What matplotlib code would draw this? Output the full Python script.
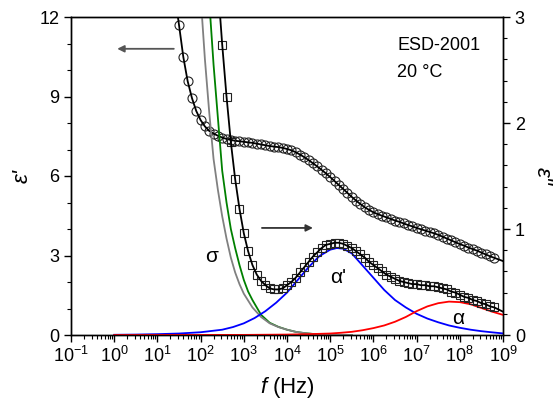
import matplotlib
matplotlib.use('Agg')
import matplotlib.pyplot as plt
import numpy as np
from matplotlib.ticker import MultipleLocator, LogLocator, NullFormatter

plt.rcParams['font.family'] = ['Liberation Sans', 'DejaVu Sans']
plt.rcParams['mathtext.fontset'] = 'custom'
plt.rcParams['mathtext.rm'] = 'Liberation Sans'
plt.rcParams['mathtext.it'] = 'Liberation Sans:italic'
plt.rcParams['axes.unicode_minus'] = False

# measured data, 10 points per decade (log10 of f in Hz)
logf_eps1 = np.round(np.arange(15, 89) / 10, 1)
eps1 = [11.70, 10.49, 9.58, 8.94, 8.45, 8.11, 7.87, 7.70, 7.60, 7.52,
        7.45, 7.40, 7.36, 7.33, 7.31, 7.29, 7.27, 7.25, 7.22, 7.19,
        7.16, 7.13, 7.11, 7.09, 7.06, 7.02, 6.97, 6.90, 6.81, 6.71,
        6.60, 6.48, 6.36, 6.23, 6.10, 5.96, 5.81, 5.66, 5.51, 5.36,
        5.21, 5.07, 4.94, 4.82, 4.72, 4.63, 4.56, 4.50, 4.44, 4.38,
        4.32, 4.27, 4.21, 4.15, 4.10, 4.04, 3.99, 3.94, 3.89, 3.84,
        3.78, 3.71, 3.64, 3.57, 3.50, 3.43, 3.37, 3.30, 3.24, 3.18,
        3.11, 3.04, 2.97, 2.91]

logf_eps2 = np.round(np.arange(25, 89) / 10, 1)
eps2 = [2.74, 2.25, 1.82, 1.47, 1.19, 0.96, 0.79, 0.66, 0.57, 0.51,
        0.47, 0.44, 0.43, 0.43, 0.44, 0.47, 0.50, 0.54, 0.59, 0.64,
        0.69, 0.74, 0.78, 0.82, 0.85, 0.86, 0.87, 0.87, 0.86, 0.84,
        0.82, 0.79, 0.76, 0.73, 0.69, 0.66, 0.63, 0.60, 0.57, 0.55,
        0.53, 0.51, 0.50, 0.49, 0.48, 0.48, 0.47, 0.47, 0.46, 0.46,
        0.45, 0.44, 0.43, 0.41, 0.40, 0.38, 0.36, 0.35, 0.33, 0.32,
        0.30, 0.29, 0.27, 0.26]

# fit curves extend a bit beyond the measured points
fit1_head_logf, fit1_head = [1.4], [12.9]
fit1_tail_logf, fit1_tail = [8.9, 9.0], [2.85, 2.79]
fit2_head_logf, fit2_head = [2.4], [3.3]
fit2_tail_logf, fit2_tail = [8.9, 9.0], [0.24, 0.22]

# conductivity terms
logf_gray = [1.9, 2.0, 2.1, 2.2, 2.3, 2.4, 2.5, 2.6, 2.7, 2.8, 2.9, 3.0,
             3.2, 3.4, 3.6, 3.8, 4.0, 4.2, 4.4, 4.6, 4.8, 5.0, 5.5]
gray = [4.0, 3.2, 2.6, 2.1, 1.66, 1.37, 1.12, 0.91, 0.73, 0.59, 0.48, 0.39,
        0.26, 0.17, 0.11, 0.075, 0.05, 0.03, 0.018, 0.01, 0.005, 0.002, 0.0]
logf_green = [2.0, 2.1, 2.2, 2.3, 2.4, 2.5, 2.6, 2.7, 2.8, 2.9, 3.0, 3.1,
              3.2, 3.3, 3.4, 3.6, 3.8, 4.0, 4.2, 4.4, 4.6, 4.8, 5.0, 5.5]
green = [4.8, 3.9, 3.15, 2.55, 2.05, 1.55, 1.25, 1.0, 0.82, 0.66, 0.52, 0.41,
         0.33, 0.26, 0.19, 0.115, 0.077, 0.05, 0.03, 0.018, 0.01, 0.005, 0.002, 0.0]

# alpha' relaxation
logf_blue = [0.0, 0.5, 1.0, 1.5, 2.0, 2.5, 2.75, 3.0, 3.25, 3.5, 3.75, 4.0,
             4.25, 4.5, 4.75, 5.0, 5.15, 5.3, 5.5, 5.75, 6.0, 6.25, 6.5, 6.75,
             7.0, 7.25, 7.5, 7.75, 8.0, 8.25, 8.5, 8.75, 9.0]
blue = [0.002, 0.004, 0.008, 0.014, 0.026, 0.05, 0.075, 0.11, 0.16, 0.225, 0.305, 0.40,
        0.52, 0.64, 0.745, 0.805, 0.82, 0.815, 0.77, 0.655, 0.54, 0.425, 0.33, 0.26,
        0.20, 0.155, 0.12, 0.09, 0.068, 0.05, 0.036, 0.025, 0.015]

# alpha relaxation
logf_red = [0.0, 3.0, 4.0, 4.5, 5.0, 5.25, 5.5, 5.75, 6.0, 6.25, 6.5, 6.75,
            7.0, 7.25, 7.5, 7.75, 8.0, 8.25, 8.5, 8.75, 9.0]
red = [0.0, 0.001, 0.004, 0.008, 0.014, 0.021, 0.03, 0.045, 0.065, 0.09, 0.125, 0.17,
       0.225, 0.27, 0.30, 0.315, 0.31, 0.29, 0.255, 0.22, 0.19]

fig = plt.figure(figsize=(5.57, 4.12), dpi=100)
ax = fig.add_axes([71 / 557, 1 - 335 / 412, 432 / 557, 318 / 412])
ax2 = ax.twinx()

f = lambda lf: 10.0 ** np.asarray(lf)

# epsilon' (left axis)
ax.plot(f(logf_eps1), eps1, 'o', ms=6.5, mfc='none', mec='#222222', mew=0.8)
ax.plot(f(np.concatenate([fit1_head_logf, logf_eps1, fit1_tail_logf])),
        np.concatenate([fit1_head, eps1, fit1_tail]), color='black', lw=1.3)

# epsilon'' (right axis)
ax2.plot(f(logf_green), green, color='#008000', lw=1.3)
ax2.plot(f(logf_gray), gray, color='#808080', lw=1.3)
ax2.plot(f(logf_blue), blue, color='#0000ff', lw=1.3)
ax2.plot(f(logf_red), red, color='#ff0000', lw=1.3)
ax2.plot(f(logf_eps2), eps2, 's', ms=5.5, mfc='none', mec='#222222', mew=0.8)
ax2.plot(f(np.concatenate([fit2_head_logf, logf_eps2, fit2_tail_logf])),
         np.concatenate([fit2_head, eps2, fit2_tail]), color='black', lw=1.3)

ax.set_xscale('log')
ax.set_xlim(1e-1, 1e9)
ax.set_ylim(0, 12)
ax2.set_ylim(0, 3)
ax.set_yticks([0, 3, 6, 9, 12])
ax.yaxis.set_minor_locator(MultipleLocator(1))
ax2.set_yticks([0, 1, 2, 3])
ax2.yaxis.set_minor_locator(MultipleLocator(0.2))
ax.xaxis.set_major_locator(LogLocator(base=10, numticks=20))
ax.xaxis.set_minor_locator(LogLocator(base=10, subs=np.arange(2, 10), numticks=200))
ax.xaxis.set_minor_formatter(NullFormatter())

for a in (ax, ax2):
    a.tick_params(which='major', direction='out', length=5, width=1, labelsize=13)
    a.tick_params(which='minor', direction='out', length=3, width=0.8)
    for s in a.spines.values():
        s.set_linewidth(1.0)
ax.tick_params(axis='x', which='major', pad=3)

ax.set_xlabel('$f$ (Hz)', fontsize=16)
ax.xaxis.set_label_coords(0.5, -0.125)
ax.set_ylabel("ε'", fontsize=16, style='italic')
ax.yaxis.set_label_coords(-0.088, 0.5)
ax2.set_ylabel("ε''", fontsize=16, style='italic', rotation=-90, va='center')
ax2.yaxis.set_label_coords(1.09, 0.5)

# annotations
ax.annotate('', xy=(10 ** 0.07, 10.8), xytext=(10 ** 1.38, 10.8),
            arrowprops=dict(arrowstyle='-|>', color='#555555', lw=1.3,
                            mutation_scale=10, shrinkA=0, shrinkB=0))
ax.annotate('', xy=(10 ** 4.6, 4.04), xytext=(10 ** 3.42, 4.04),
            arrowprops=dict(arrowstyle='-|>', color='#333333', lw=1.3,
                            mutation_scale=10, shrinkA=0, shrinkB=0))
ax2.text(10 ** 2.26, 0.74, 'σ', fontsize=15, ha='center', va='center')
ax2.text(10 ** 5.18, 0.54, "α'", fontsize=15, ha='center', va='center')
ax2.text(10 ** 7.96, 0.16, 'α', fontsize=15, ha='center', va='center')
ax.text(0.755, 0.909, 'ESD-2001', transform=ax.transAxes, fontsize=13,
        ha='left', va='center')
ax.text(0.755, 0.827, '20 °C', transform=ax.transAxes, fontsize=13,
        ha='left', va='center')

fig.savefig('out.png', dpi=100)
